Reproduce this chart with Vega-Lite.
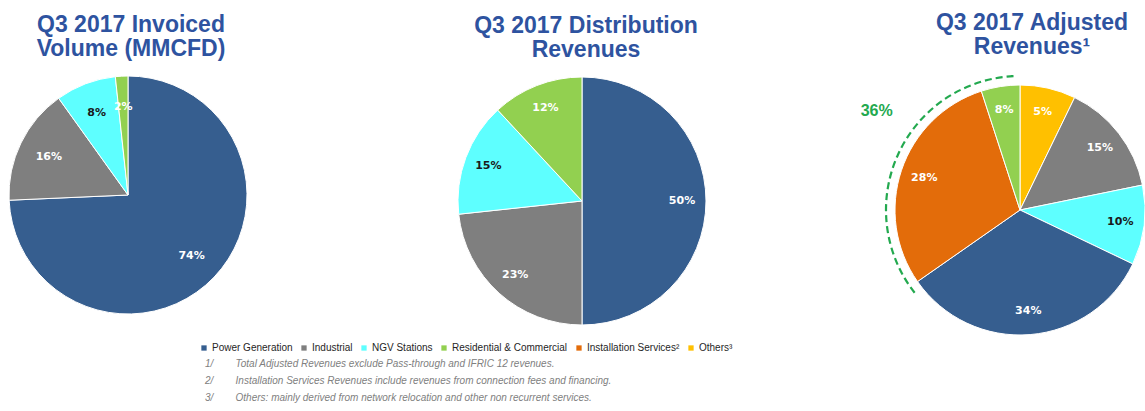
{
  "$schema": "https://vega.github.io/schema/vega-lite/v6.json",
  "padding": {"top": 11, "left": 0, "right": 0, "bottom": 0},
  "background": "white",
  "config": {"view": {"stroke": null}, "font": "Liberation Sans"},
  "datasets": {
    "pies": [
      {"chart": "vol", "category": "Power Generation", "value": 74.3, "label": "74%"},
      {"chart": "vol", "category": "Industrial", "value": 15.8, "label": "16%"},
      {"chart": "vol", "category": "NGV Stations", "value": 8.2, "label": "8%"},
      {"chart": "vol", "category": "Residential & Commercial", "value": 1.7, "label": "2%"},
      {"chart": "dist", "category": "Power Generation", "value": 50.0, "label": "50%"},
      {"chart": "dist", "category": "Industrial", "value": 23.3, "label": "23%"},
      {"chart": "dist", "category": "NGV Stations", "value": 14.8, "label": "15%"},
      {"chart": "dist", "category": "Residential & Commercial", "value": 11.9, "label": "12%"},
      {"chart": "adj", "category": "Others", "value": 7.2, "label": "5%"},
      {"chart": "adj", "category": "Industrial", "value": 14.6, "label": "15%"},
      {"chart": "adj", "category": "NGV Stations", "value": 10.3, "label": "10%"},
      {"chart": "adj", "category": "Power Generation", "value": 33.2, "label": "34%"},
      {"chart": "adj", "category": "Installation Services", "value": 29.7, "label": "28%"},
      {"chart": "adj", "category": "Residential & Commercial", "value": 5.0, "label": "8%"}
    ],
    "groups": [
      {"group": "Installation Services + Residential & Commercial", "label": "36%", "from": 64.4, "to": 99.4, "at": 84.6}
    ]
  },
  "title": {
    "text": [
      "1/\u00a0\u00a0\u00a0\u00a0\u00a0\u00a0\u00a0\u00a0Total Adjusted Revenues exclude Pass-through and IFRIC 12 revenues.",
      "2/\u00a0\u00a0\u00a0\u00a0\u00a0\u00a0\u00a0\u00a0Installation Services Revenues include revenues from connection fees and  financing.",
      "3/\u00a0\u00a0\u00a0\u00a0\u00a0\u00a0\u00a0\u00a0Others: mainly derived from network relocation and other non recurrent services."
    ],
    "orient": "bottom",
    "anchor": "start",
    "dx": 205,
    "offset": 6,
    "font": "Liberation Sans",
    "fontStyle": "italic",
    "fontWeight": "normal",
    "fontSize": 10,
    "lineHeight": 17,
    "color": "#808080"
  },
  "spacing": 196,
  "bounds": "flush",
  "hconcat": [
    {
      "width": 256,
      "height": 236,
      "title": {"text": ["Q3 2017 Invoiced", "Volume  (MMCFD)"], "dx": 3, "font": "Liberation Sans", "fontSize": 23, "fontWeight": "bold", "color": "#2E53A0", "lineHeight": 24, "anchor": "middle", "offset": 13},
      "data": {"name": "pies"},
      "transform": [{"filter": "datum.chart == 'vol'"}, {"window": [{"op": "row_number", "as": "k"}]}],
      "layer": [
        {
          "mark": {"type": "arc", "radius": 119, "stroke": "white", "strokeWidth": 1},
          "encoding": {
            "theta": {"field": "value", "type": "quantitative", "stack": true},
            "order": {"field": "k", "type": "quantitative"},
            "color": {
              "field": "category", "type": "nominal",
              "scale": {"domain": ["Power Generation", "Industrial", "NGV Stations", "Residential & Commercial", "Installation Services", "Others"], "range": ["#365E8F", "#7F7F7F", "#5EFFFF", "#92D050", "#E36C0A", "#FFC000"]},
              "legend": {"title": null, "orient": "none", "legendX": 199, "legendY": 266, "direction": "horizontal", "columns": 6, "symbolType": "square", "symbolSize": 28, "symbolStrokeWidth": 0, "labelFont": "Liberation Sans", "labelFontSize": 10, "labelColor": "#262626", "labelOffset": 3, "columnPadding": 6, "padding": 0, "labelLimit": 300,
                "labelExpr": "datum.label == 'Installation Services' ? 'Installation Services\u00b2' : datum.label == 'Others' ? 'Others\u00b3' : datum.label"}
            }
          }
        },
        {
          "mark": {"type": "text", "radius": 88, "font": "DejaVu Sans", "fontWeight": "bold", "fontSize": 11},
          "encoding": {
            "theta": {"field": "value", "type": "quantitative", "stack": true},
            "order": {"field": "k", "type": "quantitative"},
            "detail": {"field": "category", "type": "nominal"},
            "text": {"field": "label", "type": "nominal"},
            "color": {"condition": {"test": "datum.category == 'NGV Stations'", "value": "#1a1a1a"}, "value": "white"}
          }
        }
      ]
    },
    {
      "spacing": 183,
      "bounds": "flush",
      "hconcat": [
        {
          "width": 260,
          "height": 248,
          "title": {"text": ["Q3 2017 Distribution", "Revenues"], "dx": 4, "font": "Liberation Sans", "fontSize": 23, "fontWeight": "bold", "color": "#2E53A0", "lineHeight": 24, "anchor": "middle", "offset": 13},
          "data": {"name": "pies"},
          "transform": [{"filter": "datum.chart == 'dist'"}, {"window": [{"op": "row_number", "as": "k"}]}],
          "layer": [
            {
              "mark": {"type": "arc", "radius": 124, "stroke": "white", "strokeWidth": 1},
              "encoding": {
                "theta": {"field": "value", "type": "quantitative", "stack": true},
                "order": {"field": "k", "type": "quantitative"},
                "color": {
                  "field": "category", "type": "nominal",
                  "scale": {"domain": ["Power Generation", "Industrial", "NGV Stations", "Residential & Commercial", "Installation Services", "Others"], "range": ["#365E8F", "#7F7F7F", "#5EFFFF", "#92D050", "#E36C0A", "#FFC000"]},
                  "legend": {"title": null, "orient": "none", "legendX": 199, "legendY": 266, "direction": "horizontal", "columns": 6, "symbolType": "square", "symbolSize": 28, "symbolStrokeWidth": 0, "labelFont": "Liberation Sans", "labelFontSize": 10, "labelColor": "#262626", "labelOffset": 3, "columnPadding": 6, "padding": 0, "labelLimit": 300,
                    "labelExpr": "datum.label == 'Installation Services' ? 'Installation Services\u00b2' : datum.label == 'Others' ? 'Others\u00b3' : datum.label"}
                }
              }
            },
            {
              "mark": {"type": "text", "radius": 100, "font": "DejaVu Sans", "fontWeight": "bold", "fontSize": 11},
              "encoding": {
                "theta": {"field": "value", "type": "quantitative", "stack": true},
                "order": {"field": "k", "type": "quantitative"},
                "detail": {"field": "category", "type": "nominal"},
                "text": {"field": "label", "type": "nominal"},
                "color": {"condition": {"test": "datum.category == 'NGV Stations'", "value": "#1a1a1a"}, "value": "white"}
              }
            }
          ]
        },
        {
          "width": 250,
          "height": 266,
          "title": {"text": ["Q3 2017 Adjusted", "Revenues\u00b9"], "dx": 12, "font": "Liberation Sans", "fontSize": 23, "fontWeight": "bold", "color": "#2E53A0", "lineHeight": 24, "anchor": "middle", "offset": 13},
          "layer": [
            {
              "data": {"name": "pies"},
              "transform": [{"filter": "datum.chart == 'adj'"}, {"window": [{"op": "row_number", "as": "k"}]}],
              "mark": {"type": "arc", "radius": 125, "stroke": "white", "strokeWidth": 1},
              "encoding": {
                "theta": {"field": "value", "type": "quantitative", "stack": true, "scale": {"domain": [0, 100]}},
                "order": {"field": "k", "type": "quantitative"},
                "color": {
                  "field": "category", "type": "nominal",
                  "scale": {"domain": ["Power Generation", "Industrial", "NGV Stations", "Residential & Commercial", "Installation Services", "Others"], "range": ["#365E8F", "#7F7F7F", "#5EFFFF", "#92D050", "#E36C0A", "#FFC000"]},
                  "legend": {"title": null, "orient": "none", "legendX": 199, "legendY": 266, "direction": "horizontal", "columns": 6, "symbolType": "square", "symbolSize": 28, "symbolStrokeWidth": 0, "labelFont": "Liberation Sans", "labelFontSize": 10, "labelColor": "#262626", "labelOffset": 3, "columnPadding": 6, "padding": 0, "labelLimit": 300,
                    "labelExpr": "datum.label == 'Installation Services' ? 'Installation Services\u00b2' : datum.label == 'Others' ? 'Others\u00b3' : datum.label"}
                }
              }
            },
            {
              "data": {"name": "pies"},
              "transform": [{"filter": "datum.chart == 'adj'"}, {"window": [{"op": "row_number", "as": "k"}]}],
              "mark": {"type": "text", "radius": 101, "font": "DejaVu Sans", "fontWeight": "bold", "fontSize": 11},
              "encoding": {
                "theta": {"field": "value", "type": "quantitative", "stack": true, "scale": {"domain": [0, 100]}},
                "order": {"field": "k", "type": "quantitative"},
                "detail": {"field": "category", "type": "nominal"},
                "text": {"field": "label", "type": "nominal"},
                "color": {"condition": {"test": "datum.category == 'NGV Stations'", "value": "#1a1a1a"}, "value": "white"}
              }
            },
            {
              "data": {"name": "groups"},
              "mark": {"type": "arc", "radius": 134, "radius2": 134, "filled": false, "stroke": "#23A94F", "strokeWidth": 2.2, "strokeCap": "butt",
                "strokeDash": [7,4,7,4,7,4,7,4,7,4,7,4,7,4,7,4,7,4,7,4,7,4,7,4,7,4,7,4,7,4,7,4,7,4,7,4,7,4,7,4,7,4,7,4,7,4,7,4,7,4,7,4,7,4,4,2000]},
              "encoding": {
                "theta": {"field": "from", "type": "quantitative", "scale": {"domain": [0, 100]}},
                "theta2": {"field": "to"}
              }
            },
            {
              "data": {"name": "groups"},
              "mark": {"type": "text", "radius": 174, "font": "Liberation Sans", "fontWeight": "bold", "fontSize": 16, "color": "#23A94F"},
              "encoding": {
                "theta": {"field": "at", "type": "quantitative", "scale": {"domain": [0, 100]}},
                "text": {"field": "label", "type": "nominal"}
              }
            }
          ]
        }
      ]
    }
  ]
}
